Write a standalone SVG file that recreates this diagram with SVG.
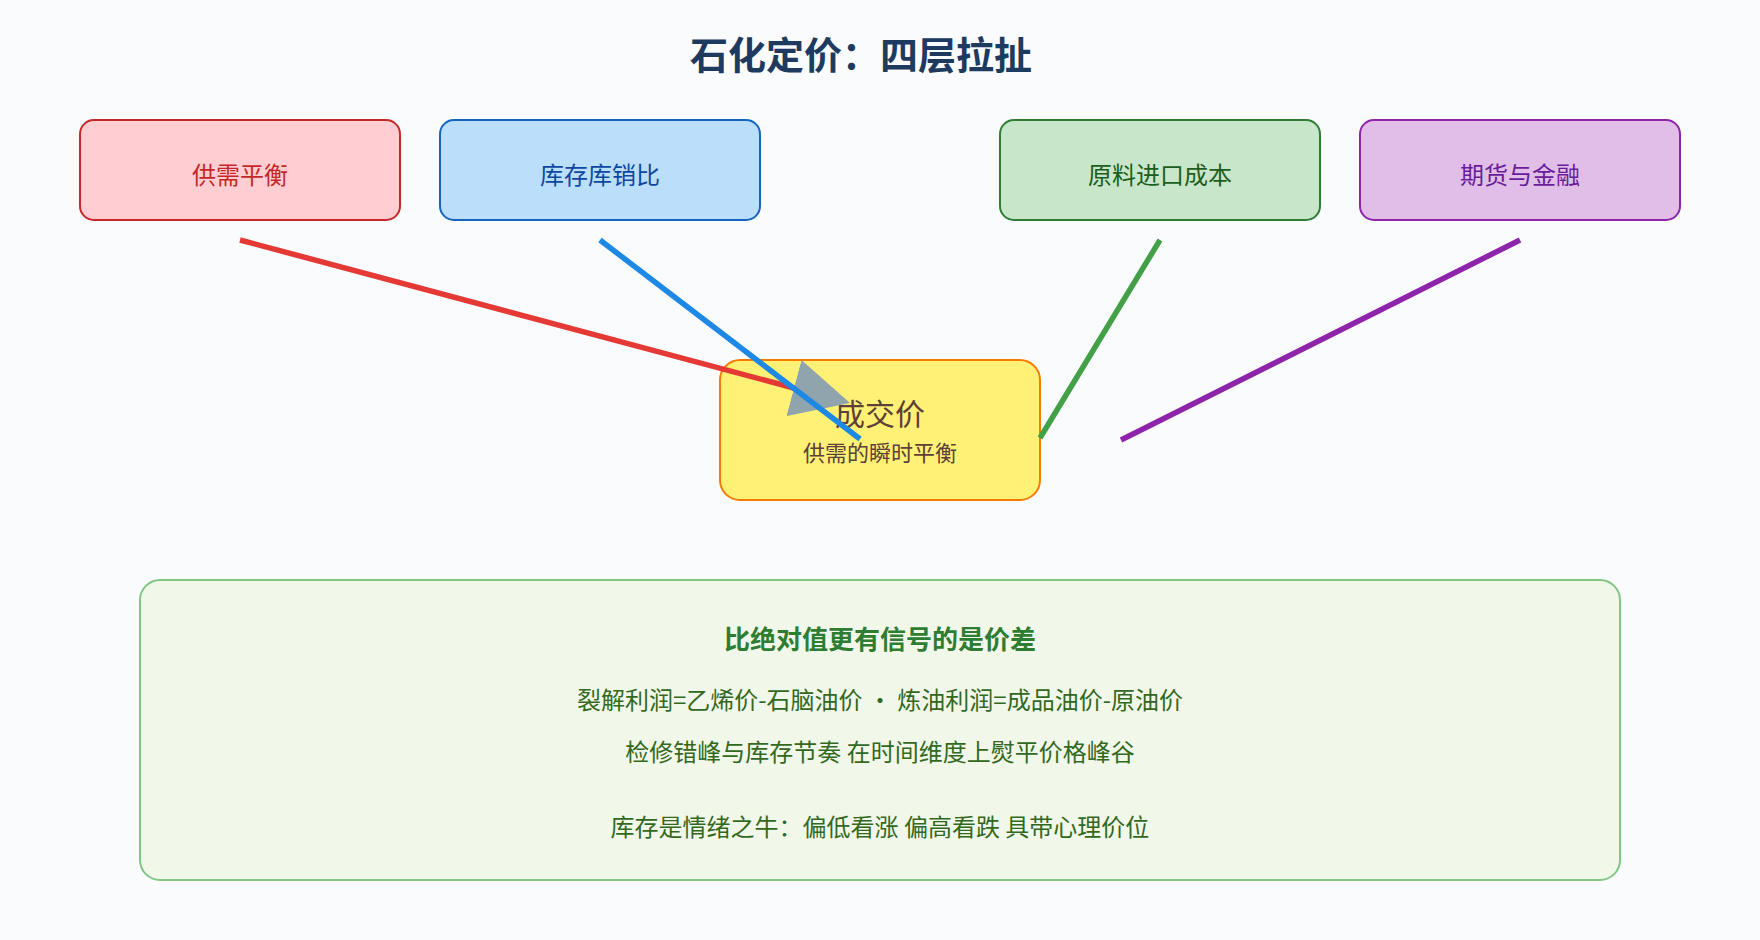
<svg xmlns="http://www.w3.org/2000/svg" width="1760" height="940" viewBox="0 0 1760 940">
  <style>
    .t { font-family: "Noto Sans CJK SC", "Noto Sans", "Liberation Sans", sans-serif; text-anchor: middle; }
    .title { font-size: 38px; font-weight: bold; fill: #1e3a5f; }
    .lbl { font-size: 24px; }
    .box { stroke-width: 2; }
    .conn { fill: none; stroke-width: 5.5; stroke-linecap: butt; }
    .panel-h { font-size: 26px; font-weight: bold; fill: #2e7d32; }
    .panel-t { font-size: 24px; fill: #33691e; }
  </style>
  <defs>
    <marker id="arrow" viewBox="0 0 10 10" refX="0" refY="5" markerUnits="userSpaceOnUse" markerWidth="58" markerHeight="58" orient="auto">
      <path d="M0,0 L10,5 L0,10 z" fill="#90a4ae"/>
    </marker>
  </defs>
  <rect width="1760" height="940" fill="#f9fbfd"/>

  <text class="t title" x="861" y="69">石化定价：四层拉扯</text>

  <g id="node-supply">
    <rect class="box" x="80" y="120" width="320" height="100" rx="14" fill="#ffcdd2" stroke="#c62828"/>
    <text class="t lbl" x="240" y="184" fill="#c62828">供需平衡</text>
  </g>
  <g id="node-inventory">
    <rect class="box" x="440" y="120" width="320" height="100" rx="14" fill="#bbdefb" stroke="#1565c0"/>
    <text class="t lbl" x="600" y="184" fill="#0d47a1">库存库销比</text>
  </g>
  <g id="node-cost">
    <rect class="box" x="1000" y="120" width="320" height="100" rx="14" fill="#c8e6c9" stroke="#2e7d32"/>
    <text class="t lbl" x="1160" y="184" fill="#1b5e20">原料进口成本</text>
  </g>
  <g id="node-finance">
    <rect class="box" x="1360" y="120" width="320" height="100" rx="14" fill="#e1bee7" stroke="#8e24aa"/>
    <text class="t lbl" x="1520" y="184" fill="#6a1b9a">期货与金融</text>
  </g>

  <g id="node-price">
    <rect class="box" x="720" y="360" width="320" height="140" rx="20" fill="#fff176" stroke="#f57c00"/>
    <text class="t" x="880" y="425" font-size="30" fill="#5d4037">成交价</text>
    <text class="t" x="880" y="461" font-size="22" fill="#5d4037">供需的瞬时平衡</text>
  </g>

  <g id="connectors">
    <line class="conn" x1="240" y1="240" x2="794" y2="388" stroke="#e53935" marker-end="url(#arrow)"/>
    <line class="conn" x1="600" y1="240" x2="860" y2="439" stroke="#1e88e5"/>
    <line class="conn" x1="1160" y1="240" x2="1040" y2="438" stroke="#43a047"/>
    <line class="conn" x1="1520" y1="240" x2="1121" y2="440" stroke="#8e24aa"/>
  </g>

  <g id="panel">
    <rect x="140" y="580" width="1480" height="300" rx="20" fill="#f1f8e9" stroke="#81c784" stroke-width="2"/>
    <text class="t panel-h" x="880" y="649">比绝对值更有信号的是价差</text>
    <text class="t panel-t" x="880" y="709">裂解利润=乙烯价-石脑油价 · 炼油利润=成品油价-原油价</text>
    <text class="t panel-t" x="880" y="761">检修错峰与库存节奏 在时间维度上熨平价格峰谷</text>
    <text class="t panel-t" x="880" y="836">库存是情绪之牛：偏低看涨 偏高看跌 具带心理价位</text>
  </g>
</svg>
